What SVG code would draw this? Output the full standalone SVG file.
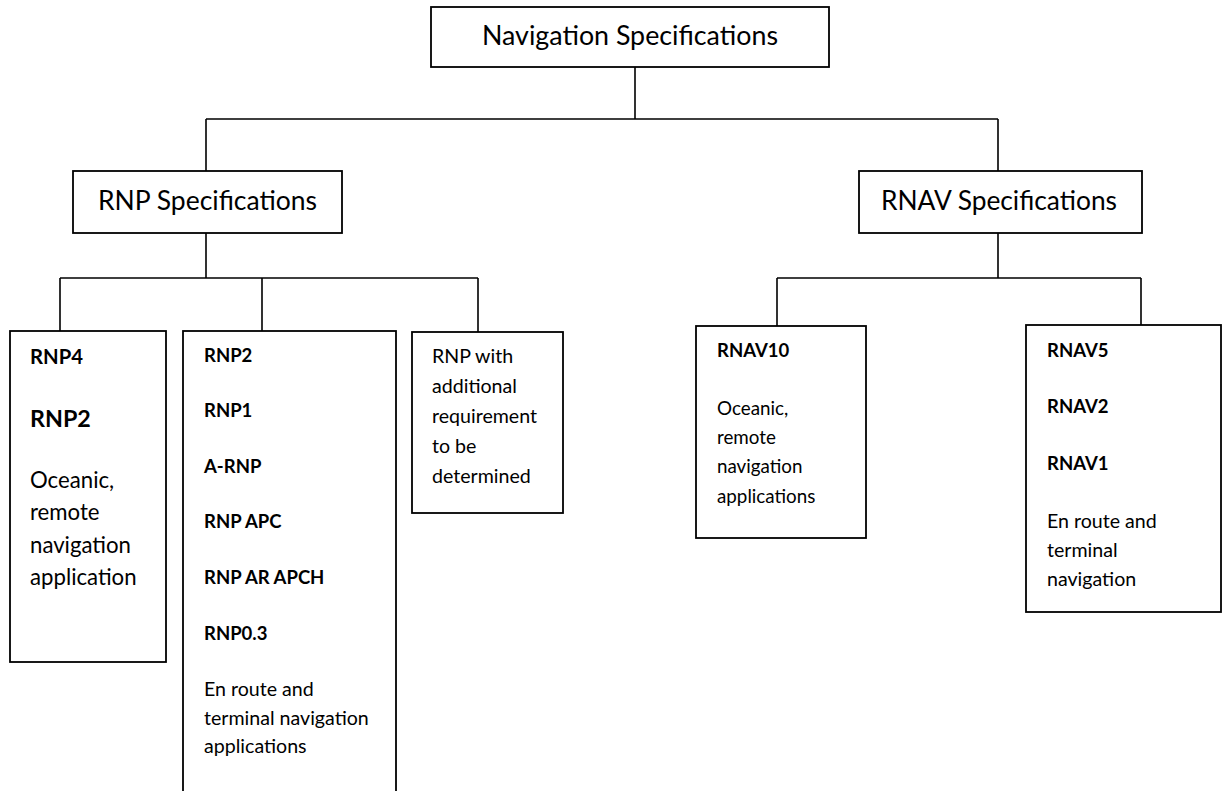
<svg xmlns="http://www.w3.org/2000/svg" width="1223" height="791" viewBox="0 0 1223 791">
<style>
.box{fill:#fff;stroke:#000;stroke-width:1.8}
.conn{fill:none;stroke:#000;stroke-width:1.6}
text{font-family:Lato,"Open Sans","Liberation Sans",sans-serif;fill:#000}
.title{font-size:26px}
.b{font-weight:bold;font-size:18.5px}
.r{font-size:19.6px}
.r2{font-size:18.8px}
</style>
<rect width="1223" height="791" fill="#fff"/>
<g id="connectors">
<path class="conn" d="M635 67V119M206 119H998M206 119V171M998 119V171"/>
<path class="conn" d="M206 233V278M60 278H478M60 278V331M262 278V331M478 278V332"/>
<path class="conn" d="M998 233V278M777 278H1141M777 278V326M1141 278V325"/>
</g>
<g id="nav-spec">
<rect class="box" x="431" y="7" width="398" height="60"/>
<text class="title" x="630" y="45" text-anchor="middle" textLength="296" lengthAdjust="spacingAndGlyphs">Navigation Specifications</text>
</g>
<g id="rnp-spec">
<rect class="box" x="73" y="171" width="269" height="62"/>
<text class="title" x="207.5" y="210" text-anchor="middle" textLength="219" lengthAdjust="spacingAndGlyphs">RNP Specifications</text>
</g>
<g id="rnav-spec">
<rect class="box" x="859" y="171" width="283" height="62"/>
<text class="title" x="999" y="210" text-anchor="middle" textLength="236" lengthAdjust="spacingAndGlyphs">RNAV Specifications</text>
</g>
<g id="rnp4">
<rect class="box" x="10" y="331" width="156" height="331"/>
<text x="30" y="364" font-weight="bold" font-size="20.3">RNP4</text>
<text x="30" y="427" font-weight="bold" font-size="23.3">RNP2</text>
<text x="30" y="488" font-size="22.2">Oceanic,</text>
<text x="30" y="520" font-size="22.2">remote</text>
<text x="30" y="553" font-size="22.2">navigation</text>
<text x="30" y="585" font-size="22.2">application</text>
</g>
<g id="rnp2">
<rect class="box" x="183" y="331" width="213" height="480"/>
<text class="b" x="204" y="362">RNP2</text>
<text class="b" x="204" y="417">RNP1</text>
<text class="b" x="204" y="473">A-RNP</text>
<text class="b" x="204" y="528">RNP APC</text>
<text class="b" x="204" y="584">RNP AR APCH</text>
<text class="b" x="204" y="640">RNP0.3</text>
<text class="r" x="204" y="696">En route and</text>
<text class="r" x="204" y="725">terminal navigation</text>
<text class="r" x="204" y="753">applications</text>
</g>
<g id="rnp-additional">
<rect class="box" x="412" y="332" width="151" height="181"/>
<text class="r" x="432" y="363" font-size="20">RNP with</text>
<text class="r" x="432" y="393" font-size="20">additional</text>
<text class="r" x="432" y="423" font-size="20">requirement</text>
<text class="r" x="432" y="453" font-size="20">to be</text>
<text class="r" x="432" y="483" font-size="20">determined</text>
</g>
<g id="rnav10">
<rect class="box" x="696" y="326" width="170" height="212"/>
<text class="b" x="717" y="357" font-size="18">RNAV10</text>
<text class="r2" x="717" y="415">Oceanic,</text>
<text class="r2" x="717" y="444">remote</text>
<text class="r2" x="717" y="473">navigation</text>
<text class="r2" x="717" y="503">applications</text>
</g>
<g id="rnav5">
<rect class="box" x="1026" y="325" width="195" height="287"/>
<text class="b" x="1047" y="357">RNAV5</text>
<text class="b" x="1047" y="413">RNAV2</text>
<text class="b" x="1047" y="470">RNAV1</text>
<text class="r" x="1047" y="528" font-size="19.3">En route and</text>
<text class="r" x="1047" y="557" font-size="19.3">terminal</text>
<text class="r" x="1047" y="586" font-size="19.3">navigation</text>
</g>
</svg>
